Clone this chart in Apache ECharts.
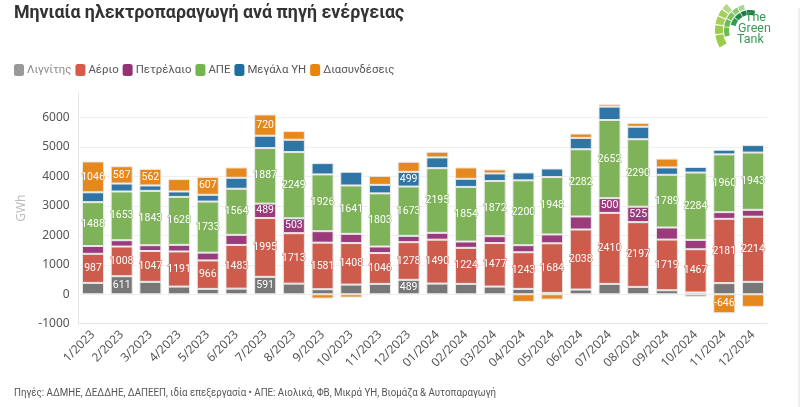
<!DOCTYPE html>
<html>
<head>
<meta charset="utf-8">
<script src="https://cdn.jsdelivr.net/npm/echarts@6/dist/echarts.min.js"></script>
<style>
  html, body { margin: 0; padding: 0; background: #fff; }
  #main { width: 800px; height: 407px; }
</style>
</head>
<body>
<div id="main"></div>
<script>
var months = ['1/2023','2/2023','3/2023','4/2023','5/2023','6/2023','7/2023','8/2023','9/2023','10/2023','11/2023','12/2023',
  '01/2024','02/2024','03/2024','04/2024','05/2024','06/2024','07/2024','08/2024','09/2024','10/2024','11/2024','12/2024'];

var lignite = [385,611,420,260,181,190,591,360,170,328,351,489,362,351,260,181,45,159,351,249,136,60,378,419];
var gas = [987,1008,1047,1191,966,1483,1995,1713,1581,1408,1046,1278,1490,1224,1477,1243,1684,2038,2410,2197,1719,1467,2181,2214];
var oil = [265,215,198,225,265,343,489,503,389,314,223,215,232,214,233,241,300,442,500,525,410,318,227,232];
var res = [1488,1653,1843,1628,1733,1564,1887,2249,1926,1641,1803,1673,2195,1854,1872,2200,1948,2282,2652,2290,1789,2284,1960,1943];
var hydro = [335,270,184,184,230,372,418,418,384,465,290,499,364,275,258,268,290,385,455,424,249,190,158,254];
var imports = [1046,587,562,420,607,351,720,295,-147,-113,305,342,193,385,135,-260,-181,147,80,130,300,-90,-646,-430];

var seriesNames = ['Λιγνίτης','Αέριο','Πετρέλαιο','ΑΠΕ','Μεγάλα ΥΗ','Διασυνδέσεις'];
var seriesData = [lignite, gas, oil, res, hydro, imports];
var seriesColors = ['#777777','#cd5c4d','#9b3b7c','#7fb35a','#2f76a6','#e5891f'];
var legendColors = ['#999999','#d9594a','#963176','#73b54f','#1c6f9f','#e8850c'];

// logo fan: [r0, r, start deg, end deg, colour]
var logoCells = [
  [27,35,150,171,'#9ccb4b'],[27,35,173,188,'#9ccb4b'],[27,35,190,203,'#a3d05a'],[27,35,205,216,'#a3d05a'],[27,35,218,228,'#b5d98a'],
  [21,26,165,186,'#6cbb4e'],[21,26,188,205,'#6cbb4e'],[21,26,207,224,'#7cc35c'],[21,26,226,240,'#8ccb72'],[21,26,242,256,'#a5d79a'],
  [15,20,195,218,'#2f9e55'],[15,20,220,240,'#1f8a4c'],[15,20,242,258,'#1c7a45'],[15,20,260,285,'#1c7a45']
];

var logoGraphics = logoCells.map(function (c) {
  return {
    type: 'sector',
    silent: true,
    shape: { cx: 750, cy: 30, r0: c[0], r: c[1], startAngle: c[2] * Math.PI / 180, endAngle: c[3] * Math.PI / 180 },
    style: { fill: c[4] }
  };
});

var logoText = function (text, x, y) {
  return {
    type: 'text', silent: true, x: x, y: y,
    style: { text: text, fill: '#379a55', font: '12.5px Roboto', textVerticalAlign: 'middle' }
  };
};

var myChart = echarts.init(document.getElementById('main'), null, { renderer: 'canvas' });

myChart.setOption({
  animation: false,
  backgroundColor: '#fff',
  textStyle: { fontFamily: 'Roboto' },
  title: {
    text: 'Μηνιαία ηλεκτροπαραγωγή ανά πηγή ενέργειας',
    left: 9, top: 0,
    textStyle: { fontSize: 17.8, fontWeight: 'bold', color: '#333', fontFamily: 'Roboto' }
  },
  legend: {
    left: 9, top: 59,
    itemWidth: 10, itemHeight: 12, itemGap: 4,
    icon: 'roundRect',
    textStyle: { fontSize: 11.4, color: '#555', padding: [0, 0, 0, -2] },
    data: seriesNames.map(function (n, i) {
      return {
        name: n,
        itemStyle: { color: legendColors[i], borderWidth: 0 },
        textStyle: i === 0 ? { color: '#8a8a8a' } : undefined
      };
    })
  },
  grid: { left: 78.65, right: 32.65, top: 92.7, bottom: 83.3 },
  xAxis: {
    type: 'category',
    data: months,
    axisLine: { onZero: false, lineStyle: { color: '#e6e6e6' } },
    axisTick: { alignWithLabel: true, length: 5, lineStyle: { color: '#e0e0e0' } },
    axisLabel: { rotate: 45, interval: 0, fontSize: 12, color: '#555', margin: 9, fontFamily: '"Noto Sans"' }
  },
  yAxis: {
    type: 'value',
    min: -1000, max: 6840, interval: 1000,
    name: 'GWh',
    nameLocation: 'middle',
    nameGap: 45,
    nameTextStyle: { color: '#bbb', fontSize: 12, fontFamily: '"Noto Sans"' },
    axisLine: { show: true, lineStyle: { color: '#e6e6e6' } },
    axisTick: { show: false },
    axisLabel: {
      fontSize: 12, color: '#555', margin: 9, showMaxLabel: false, fontFamily: '"Noto Sans"',
      formatter: function (v) { return String(v); }
    },
    splitLine: { showMaxLine: false, lineStyle: { color: '#efefef' } }
  },
  series: seriesData.map(function (values, i) {
    return {
      name: seriesNames[i],
      type: 'bar',
      stack: 'total',
      barWidth: 22,
      data: values,
      itemStyle: { color: seriesColors[i], borderColor: '#e8e8e8', borderWidth: 1 },
      label: {
        show: true,
        position: 'inside',
        fontSize: 10.5,
        fontFamily: 'Roboto',
        color: '#fff',
        textBorderColor: seriesColors[i],
        textBorderWidth: 1,
        // only the larger segments carry a number
        formatter: function (p) { return Math.abs(p.value) >= 480 ? String(p.value) : ''; }
      }
    };
  }),
  graphic: logoGraphics.concat([
    logoText('The', 745, 18),
    logoText('Green', 738, 29),
    logoText('Tank', 737, 40),
    { type: 'rect', silent: true, shape: { x: 798, y: 8, width: 2, height: 399 }, style: { fill: '#efefef' } },
    {
      type: 'text', silent: true, x: 14, y: 393, scaleX: 0.9,
      style: {
        text: 'Πηγές: ΑΔΜΗΕ, ΔΕΔΔΗΕ, ΔΑΠΕΕΠ, ιδία επεξεργασία • ΑΠΕ: Αιολικά, ΦΒ, Μικρά ΥΗ, Βιομάζα & Αυτοπαραγωγή',
        fill: '#555', font: '10.8px Roboto', textVerticalAlign: 'middle'
      }
    }
  ])
});
</script>
</body>
</html>
